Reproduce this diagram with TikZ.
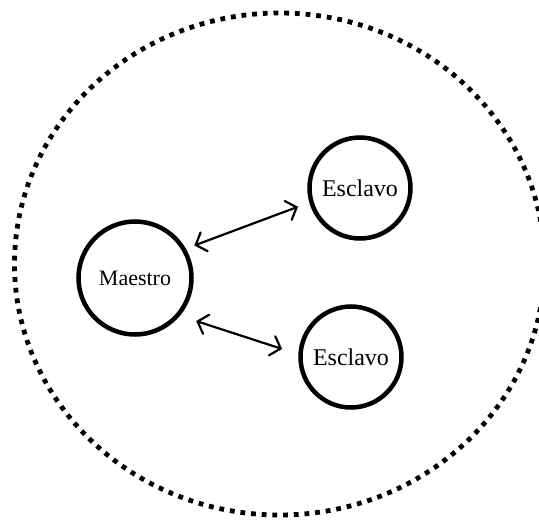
\documentclass[tikz,border=0pt]{standalone}
\usepackage{fontspec}
\setmainfont{Liberation Serif}
\usetikzlibrary{arrows.meta,shapes.geometric}
\begin{document}
\begin{tikzpicture}[x=1pt,y=1pt,
  roundnode/.style={circle, draw, line width=4.5pt, inner sep=0pt},
  cluster/.style={ellipse, draw, line width=4.8pt, inner sep=0pt,
    dash pattern=on 4.8pt off 5.9pt},
  link/.style={line width=2.2pt, line cap=round,
    {Straight Barb[length=9pt,width=20pt,line cap=round]}-{Straight Barb[length=9pt,width=20pt,line cap=round]}}]
  \useasboundingbox (0,0) rectangle (539,-522);
  % outer dotted boundary
  \node[cluster, minimum width=530pt, minimum height=502pt] (net) at (279.5,-264) {};
  % master and slaves
  \node[roundnode, minimum size=113pt, font=\fontsize{22}{24}\selectfont] (m) at (135,-278) {Maestro};
  \node[roundnode, minimum size=101pt, font=\fontsize{24}{26}\selectfont] (s1) at (360,-188) {Esclavo};
  \node[roundnode, minimum size=101pt, font=\fontsize{24}{26}\selectfont] (s2) at (351,-357) {Esclavo};
  % links
  \draw[link, shorten <=9pt, shorten >=12pt] (m.30) -- (s1.196);
  \draw[link, shorten <=17pt, shorten >=17pt] (m.320) -- (s2.177);
\end{tikzpicture}
\end{document}
